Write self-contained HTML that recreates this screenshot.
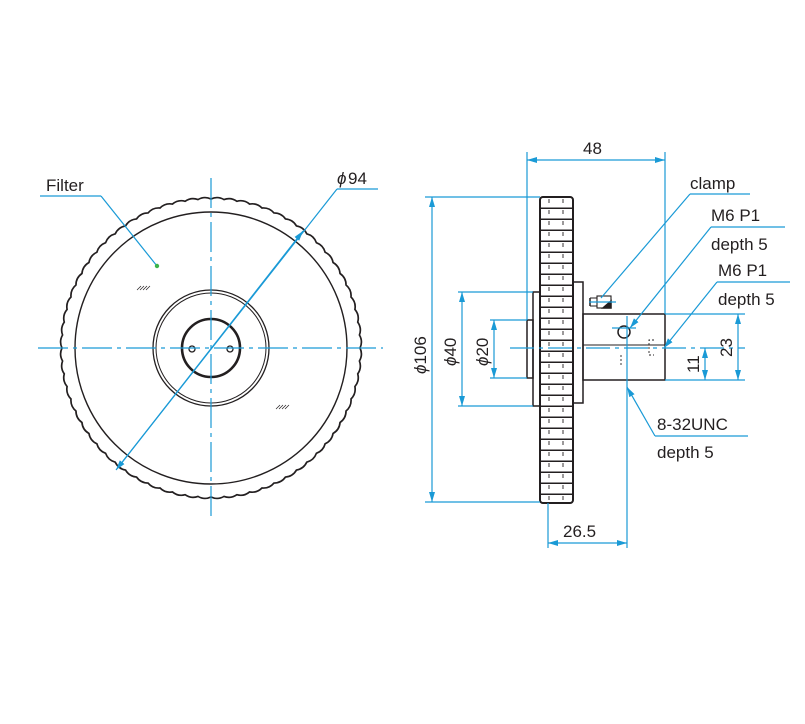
<!DOCTYPE html>
<html><head><style>
html,body{margin:0;padding:0;background:#fff}
svg{display:block}
text{font-family:"Liberation Sans",sans-serif;fill:#231f20}
</style></head><body>
<svg width="805" height="724" viewBox="0 0 805 724" xmlns="http://www.w3.org/2000/svg">
<defs>
<marker id="a" viewBox="0 0 10 6" refX="10" refY="3" markerWidth="10" markerHeight="6" orient="auto-start-reverse" markerUnits="userSpaceOnUse"><path d="M0,0L10,3L0,6z" fill="#1a9ad6"/></marker>
<pattern id="kn" width="34" height="11" patternUnits="userSpaceOnUse" x="540" y="198"><rect x="0" y="9.5" width="34" height="1.8" fill="#231f20"/><line x1="9" y1="1" x2="9" y2="5" stroke="#231f20" stroke-width="0.9"/><line x1="23" y1="1" x2="23" y2="5" stroke="#231f20" stroke-width="0.9"/></pattern>
</defs>
<!-- LEFT VIEW -->
<g fill="none" stroke="#231f20">
<circle id="fallback" cx="211" cy="348" r="150" stroke-width="1.6"/>
<path id="wavy" stroke-width="1.7" d="M0,0"/>
<circle cx="211" cy="348" r="136" stroke-width="1.4"/>
<circle cx="211" cy="348" r="58" stroke-width="1.3"/>
<circle cx="211" cy="348" r="55" stroke-width="1"/>
<circle cx="211" cy="348" r="29" stroke-width="2.6"/>
<circle cx="192" cy="349" r="3" stroke-width="1.3"/>
<circle cx="230" cy="349" r="3" stroke-width="1.3"/>
<path d="M137,290l4,-4M140,290l4,-4M143,290l4,-4M146,290l4,-4M276,409l4,-4M279,409l4,-4M282,409l4,-4M285,409l4,-4" stroke-width="0.7"/>
</g>
<g stroke="#1a9ad6" fill="none" stroke-width="1.2">
<line x1="211" y1="178" x2="211" y2="520" stroke-dasharray="30 5 4 5"/>
<line x1="38" y1="348" x2="383" y2="348" stroke-dasharray="30 5 4 5"/>
<line x1="40" y1="196" x2="101" y2="196"/>
<line x1="101" y1="196" x2="157" y2="266"/>
<line x1="116" y1="470" x2="337" y2="189" marker-start="url(#a)"/>
<line x1="337" y1="189" x2="378" y2="189"/>
</g>
<line x1="120" y1="465" x2="303" y2="231" stroke="#1a9ad6" stroke-width="1.2" marker-end="url(#a)"/>
<circle cx="157" cy="266" r="2.2" fill="#3cb44b"/>
<text x="46" y="191" font-size="17">Filter</text>
<text x="337" y="184" font-size="17" font-style="italic">ϕ</text><text x="348" y="184" font-size="17">94</text>

<!-- RIGHT VIEW -->
<g fill="none" stroke="#231f20" stroke-width="1.5">
<rect x="540" y="197" width="33" height="306" rx="3" fill="url(#kn)"/>
<rect x="540" y="197" width="33" height="306" rx="3" stroke-width="2"/>
<rect x="527" y="320" width="6" height="58"/>
<rect x="533" y="292" width="7" height="114"/>
<rect x="573" y="282" width="10" height="121"/>
<rect x="583" y="314" width="82" height="66"/>
<line x1="583" y1="345" x2="665" y2="345" stroke-width="1"/>
<rect x="597" y="296" width="14" height="12" stroke-width="1.1"/>
<line x1="590" y1="298" x2="590" y2="306"/><line x1="590" y1="298" x2="597" y2="298" stroke-width="1"/><line x1="590" y1="306" x2="597" y2="306" stroke-width="1"/>
<path d="M603,308L611,301L611,308z" fill="#231f20"/>
<circle cx="624" cy="332" r="6"/>
<path d="M654,340h-5v15h5M627,355v12M621,355v12" stroke-width="0.9" stroke-dasharray="2 2"/>
</g>
<g stroke="#1a9ad6" fill="none" stroke-width="1.2">
<line x1="527" y1="152" x2="527" y2="320"/>
<line x1="665" y1="152" x2="665" y2="314"/>
<line x1="527" y1="160" x2="665" y2="160" marker-start="url(#a)" marker-end="url(#a)"/>
<line x1="425" y1="197" x2="540" y2="197"/>
<line x1="425" y1="502" x2="540" y2="502"/>
<line x1="432" y1="197" x2="432" y2="502" marker-start="url(#a)" marker-end="url(#a)"/>
<line x1="458" y1="292" x2="533" y2="292"/>
<line x1="458" y1="406" x2="533" y2="406"/>
<line x1="462" y1="292" x2="462" y2="406" marker-start="url(#a)" marker-end="url(#a)"/>
<line x1="490" y1="320" x2="527" y2="320"/>
<line x1="490" y1="378" x2="527" y2="378"/>
<line x1="494" y1="320" x2="494" y2="378" marker-start="url(#a)" marker-end="url(#a)"/>
<line x1="510" y1="348" x2="745" y2="348" stroke-dasharray="24 5 4 5"/>
<line x1="665" y1="314" x2="745" y2="314"/>
<line x1="665" y1="380" x2="745" y2="380"/>
<line x1="738" y1="314" x2="738" y2="380" marker-start="url(#a)" marker-end="url(#a)"/>
<line x1="705" y1="348" x2="705" y2="380" marker-start="url(#a)" marker-end="url(#a)"/>
<line x1="627" y1="316" x2="627" y2="548"/>
<line x1="548" y1="503" x2="548" y2="548"/>
<line x1="548" y1="543" x2="627" y2="543" marker-start="url(#a)" marker-end="url(#a)"/>
<line x1="589" y1="302" x2="616" y2="302"/>
<line x1="612" y1="328" x2="636" y2="328"/>
<line x1="690" y1="194" x2="750" y2="194"/><line x1="690" y1="194" x2="601" y2="298"/>
<line x1="711" y1="227" x2="785" y2="227"/>
<line x1="717" y1="282" x2="790" y2="282"/>
<line x1="655" y1="436" x2="748" y2="436"/>
</g>
<g stroke="#1a9ad6" stroke-width="1.2">
<line x1="711" y1="227" x2="630" y2="328" marker-end="url(#a)"/>
<line x1="717" y1="282" x2="664" y2="348" marker-end="url(#a)"/>
<line x1="655" y1="436" x2="627" y2="387" marker-end="url(#a)"/>
</g>
<g font-size="17">
<text x="583" y="154">48</text>
<text x="690" y="189">clamp</text>
<text x="711" y="221">M6 P1</text>
<text x="711" y="250">depth 5</text>
<text x="718" y="276">M6 P1</text>
<text x="718" y="305">depth 5</text>
<text x="657" y="430">8-32UNC</text>
<text x="657" y="458">depth 5</text>
<text x="563" y="537">26.5</text>
<text transform="translate(426,374) rotate(-90)"><tspan font-style="italic">ϕ</tspan>106</text>
<text transform="translate(456,366) rotate(-90)"><tspan font-style="italic">ϕ</tspan>40</text>
<text transform="translate(488,366) rotate(-90)"><tspan font-style="italic">ϕ</tspan>20</text>
<text transform="translate(732,357) rotate(-90)">23</text>
<text transform="translate(699,373) rotate(-90)">11</text>
</g>
</svg>
<script>
(function(){var cx=211,cy=348,n=72,R=149,d='';for(var i=0;i!==n;i++){var a0=2*Math.PI*i/n,a1=2*Math.PI*(i+1)/n;var x0=cx+R*Math.cos(a0),y0=cy+R*Math.sin(a0),x1=cx+R*Math.cos(a1),y1=cy+R*Math.sin(a1);if(i===0)d+='M'+x0.toFixed(2)+','+y0.toFixed(2);d+='A14,14 0 0 1 '+x1.toFixed(2)+','+y1.toFixed(2);}d+='z';document.getElementById('wavy').setAttribute('d',d);var f=document.getElementById('fallback');f.parentNode.removeChild(f);})();
</script>
</body></html>
